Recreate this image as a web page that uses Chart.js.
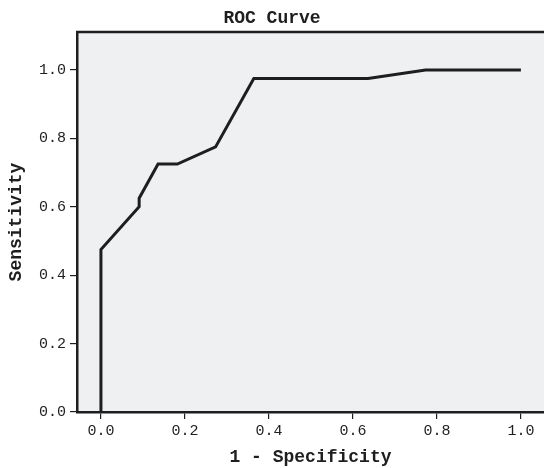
<!DOCTYPE html>
<html>
<head>
<meta charset="utf-8">
<script src="https://cdn.jsdelivr.net/npm/chart.js@4/dist/chart.umd.min.js"></script>
<style>
  html, body { margin: 0; padding: 0; background: #fff; }
  #wrap { width: 544px; height: 468px; }
</style>
</head>
<body>
<div id="wrap"><canvas id="roc"></canvas></div>
<script>
// ── DATA ──
const fpr = [0, 0, 0.091, 0.091, 0.136, 0.182, 0.273, 0.364, 0.636, 0.773, 1.0];
const tpr = [0, 0.475, 0.6, 0.625, 0.725, 0.725, 0.775, 0.975, 0.975, 1.0, 1.0];
const tickValues = [0, 0.2, 0.4, 0.6, 0.8, 1.0];

const FONT = '"Courier New", "Liberation Mono", monospace';
const INK = '#1e1e1e';

// plot background + top frame line
const framePlugin = {
  id: 'frame',
  beforeDraw(chart) {
    const { ctx, chartArea: a } = chart;
    ctx.save();
    ctx.fillStyle = '#eff0f2';
    ctx.fillRect(a.left, a.top, a.right - a.left, a.bottom - a.top);
    ctx.restore();
  },
  afterDraw(chart) {
    const { ctx, chartArea: a } = chart;
    ctx.save();
    ctx.strokeStyle = INK;
    ctx.lineWidth = 2.5;
    ctx.beginPath();
    ctx.moveTo(a.left - 1, a.top);
    ctx.lineTo(a.right, a.top);
    ctx.stroke();
    ctx.restore();
  }
};

const points = fpr.map((x, i) => ({ x, y: tpr[i] }));

function fixedTicks(axis) {
  axis.ticks = tickValues.map(v => ({ value: v }));
}

new Chart(document.getElementById('roc'), {
  type: 'scatter',
  data: {
    datasets: [{
      data: points,
      showLine: true,
      borderColor: INK,
      borderWidth: 3,
      pointRadius: 0,
      tension: 0,
      clip: false
    }]
  },
  plugins: [framePlugin],
  options: {
    responsive: true,
    maintainAspectRatio: false,
    animation: false,
    layout: { padding: 0 },
    plugins: {
      legend: { display: false },
      tooltip: { enabled: false },
      title: {
        display: true,
        text: 'ROC Curve',
        color: INK,
        font: { family: FONT, size: 18, weight: 'bold' },
        padding: { top: 8, bottom: 2.4 }
      }
    },
    scales: {
      x: {
        type: 'linear',
        min: -0.057,
        max: 1.055,
        afterBuildTicks: fixedTicks,
        afterFit(s) { s.height = 56; },
        grid: { drawOnChartArea: false, drawTicks: true, tickLength: 7, color: INK, lineWidth: 1.2 },
        border: { display: true, color: INK, width: 2.5 },
        ticks: {
          color: INK,
          padding: 3,
          font: { family: FONT, size: 15 },
          callback: v => Number(v).toFixed(1)
        },
        title: {
          display: true,
          text: '1 - Specificity',
          color: INK,
          font: { family: FONT, size: 18, weight: 'bold' },
          padding: { top: 0, bottom: 0 }
        }
      },
      y: {
        type: 'linear',
        min: 0,
        max: 1.111,
        afterBuildTicks: fixedTicks,
        afterFit(s) { s.width = 77; },
        grid: { drawOnChartArea: false, drawTicks: true, tickLength: 7, color: INK, lineWidth: 1.2 },
        border: { display: true, color: INK, width: 2.5 },
        ticks: {
          color: INK,
          padding: 4,
          font: { family: FONT, size: 15 },
          callback: v => Number(v).toFixed(1)
        },
        title: {
          display: true,
          text: 'Sensitivity',
          color: INK,
          font: { family: FONT, size: 18, weight: 'bold' },
          padding: { top: 6, bottom: 0 }
        }
      }
    }
  }
});
</script>
</body>
</html>
